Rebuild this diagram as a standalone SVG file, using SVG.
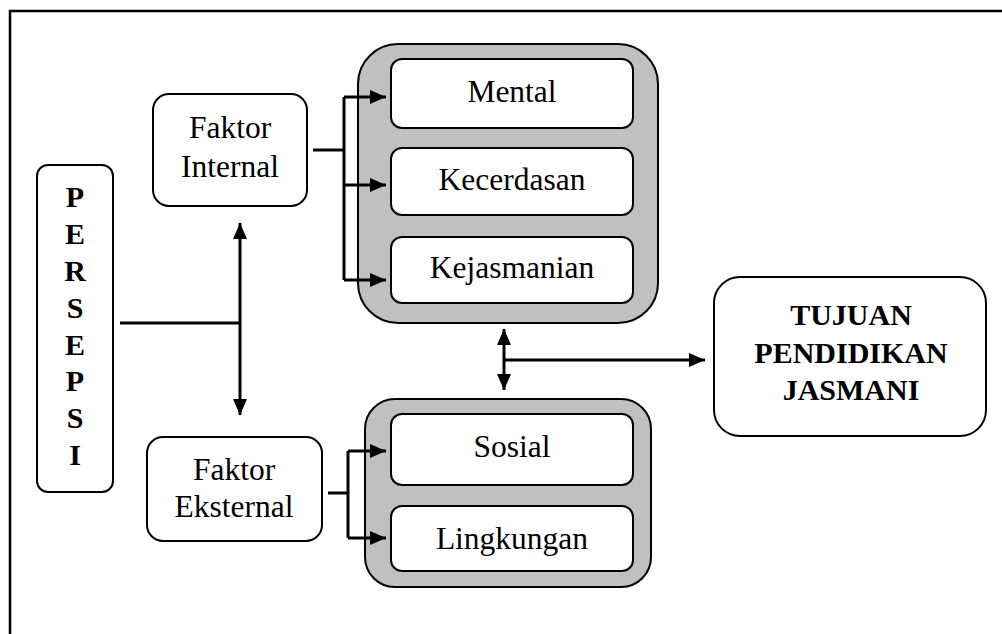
<svg xmlns="http://www.w3.org/2000/svg" width="1002" height="634" viewBox="0 0 1002 634">
<style>
.box{fill:#fff;stroke:#000;stroke-width:2}
.cont{fill:#c0c0c0;stroke:#000;stroke-width:2}
.ln{fill:none;stroke:#000;stroke-width:3}
text{font-family:'Liberation Serif','Times New Roman',serif;fill:#000;text-anchor:middle}
.t{font-size:31.5px}
.b{font-size:30px;font-weight:bold}
</style>
<defs>
<marker id="ah" viewBox="0 0 16 14" refX="16" refY="7" markerWidth="16" markerHeight="14" markerUnits="userSpaceOnUse" orient="auto-start-reverse">
<path d="M0,0 L16,7 L0,14 Z" fill="#000"/>
</marker>
</defs>
<g id="frame">
<path d="M10,634 L10,11 L1002,11" fill="none" stroke="#000" stroke-width="2.5"/>
</g>
<g id="persepsi">
<rect class="box" x="37" y="165" width="76" height="327" rx="11"/>
<text class="b" x="75" y="207">P</text>
<text class="b" x="75" y="244">E</text>
<text class="b" x="75" y="281">R</text>
<text class="b" x="75" y="318">S</text>
<text class="b" x="75" y="355">E</text>
<text class="b" x="75" y="391">P</text>
<text class="b" x="75" y="428">S</text>
<text class="b" x="75" y="465">I</text>
</g>
<g id="faktor-internal">
<rect class="box" x="153" y="94" width="154" height="112" rx="16"/>
<text class="t" x="230" y="138">Faktor</text>
<text class="t" x="230" y="177">Internal</text>
</g>
<g id="faktor-eksternal">
<rect class="box" x="147" y="437" width="175" height="104" rx="16"/>
<text class="t" x="234" y="480">Faktor</text>
<text class="t" x="234" y="517">Eksternal</text>
</g>
<g id="internal-group">
<rect class="cont" x="358" y="44" width="300" height="279" rx="40"/>
</g>
<g id="mental">
<rect class="box" x="391" y="59" width="242" height="69" rx="11"/>
<text class="t" x="512" y="102">Mental</text>
</g>
<g id="kecerdasan">
<rect class="box" x="391" y="148" width="242" height="67" rx="11"/>
<text class="t" x="512" y="190">Kecerdasan</text>
</g>
<g id="kejasmanian">
<rect class="box" x="391" y="237" width="242" height="66" rx="11"/>
<text class="t" x="512" y="278">Kejasmanian</text>
</g>
<g id="external-group">
<rect class="cont" x="365" y="399" width="286" height="188" rx="30"/>
</g>
<g id="sosial">
<rect class="box" x="391" y="414" width="242" height="71" rx="11"/>
<text class="t" x="512" y="457">Sosial</text>
</g>
<g id="lingkungan">
<rect class="box" x="391" y="506" width="242" height="65" rx="11"/>
<text class="t" x="512" y="549">Lingkungan</text>
</g>
<g id="tujuan">
<rect class="box" x="714" y="277" width="272" height="159" rx="26"/>
<text class="b" x="851" y="325">TUJUAN</text>
<text class="b" x="851" y="363">PENDIDIKAN</text>
<text class="b" x="851" y="400">JASMANI</text>
</g>
<g id="connectors">
<path class="ln" d="M120,323 L240,323"/>
<path class="ln" d="M240,223 L240,415" marker-start="url(#ah)" marker-end="url(#ah)"/>
<path class="ln" d="M313,150 L344,150"/>
<path class="ln" d="M344,97 L344,280"/>
<path class="ln" d="M344,97 L386,97" marker-end="url(#ah)"/>
<path class="ln" d="M344,185 L386,185" marker-end="url(#ah)"/>
<path class="ln" d="M344,280 L386,280" marker-end="url(#ah)"/>
<path class="ln" d="M328,493 L348,493"/>
<path class="ln" d="M348,451 L348,538"/>
<path class="ln" d="M348,451 L386,451" marker-end="url(#ah)"/>
<path class="ln" d="M348,538 L386,538" marker-end="url(#ah)"/>
<path class="ln" d="M504,329 L504,390" marker-start="url(#ah)" marker-end="url(#ah)"/>
<path class="ln" d="M504,360 L705,360" marker-end="url(#ah)"/>
</g>
</svg>
